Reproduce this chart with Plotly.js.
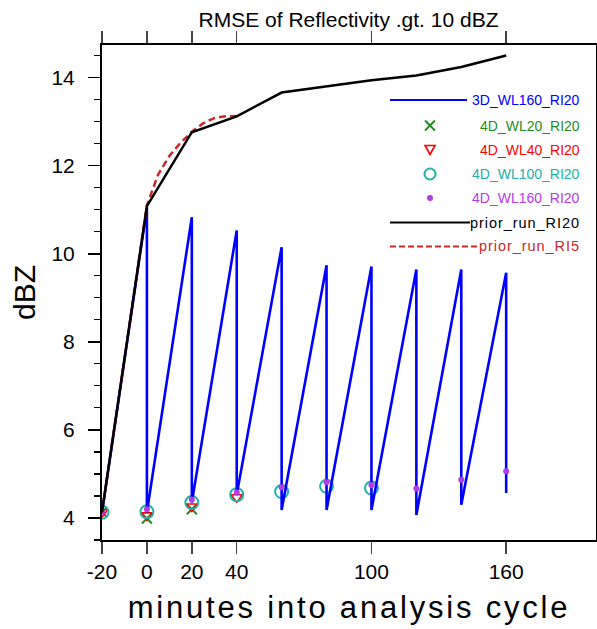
<!DOCTYPE html>
<html>
<head>
<meta charset="utf-8">
<script src="https://cdn.plot.ly/plotly-3.0.1.min.js"></script>
<style>
html,body{margin:0;padding:0;background:#fff;}
#chart{width:597px;height:629px;}
#chart .xtitle{letter-spacing:2.8px;}
</style>
</head>
<body>
<div id="chart"></div>
<script>
// ---- data ----
var startTime = -20;
var startValue = 4.13;
var cycleTimes = [0, 20, 40, 60, 80, 100, 120, 140, 160];
var wl160_3d_forecast = [11.05, 10.83, 10.53, 10.15, 9.74, 9.71, 9.64, 9.64, 9.57];
var wl160_3d_analysis = [4.13, 4.35, 4.53, 4.18, 4.18, 4.18, 4.07, 4.30, 4.57];

var wl20_4d_times = [-20, 0, 20];
var wl20_4d_values = [4.13, 3.99, 4.2];
var wl40_4d_times = [-20, 0, 20, 40];
var wl40_4d_values = [4.13, 4.06, 4.26, 4.47];
var wl100_4d_times = [-20, 0, 20, 40, 60, 80, 100];
var wl100_4d_values = [4.13, 4.14, 4.35, 4.53, 4.6, 4.72, 4.68];
var wl160_4d_times = [-20, 0, 20, 40, 60, 80, 100, 120, 140, 160];
var wl160_4d_values = [4.13, 4.2, 4.42, 4.58, 4.7, 4.81, 4.75, 4.67, 4.87, 5.06];

var priorRI20_times = [-20, 0, 20, 40, 60, 80, 100, 120, 140, 160];
var priorRI20_values = [4.13, 11.08, 12.76, 13.12, 13.66, 13.8, 13.94, 14.05, 14.24, 14.5];
var priorRI5_times = [-20, 0, 5, 10, 15, 20, 25, 30, 35, 40];
var priorRI5_values = [4.13, 11.1, 11.8, 12.22, 12.52, 12.77, 12.96, 13.08, 13.12, 13.13];

var xTickVals = [-20, 0, 20, 40, 100, 160];

// ---- build sawtooth from cycle values ----
var sawX = [startTime], sawY = [startValue];
for (var i = 0; i < cycleTimes.length; i++) {
  sawX.push(cycleTimes[i]); sawY.push(wl160_3d_forecast[i]);
  sawX.push(cycleTimes[i]); sawY.push(wl160_3d_analysis[i]);
}

var C = {
  blue: '#0000ff', green: '#1e8c1e', red: '#ff0000', cyan: '#20b2aa',
  purple: '#b43ce6', black: '#000000', darkred: '#c8282a'
};
var FONT = 'Liberation Sans, Arial, Helvetica, sans-serif';

var traces = [
  {x: wl20_4d_times, y: wl20_4d_values, mode: 'markers', type: 'scatter',
   marker: {symbol: 'x-thin', size: 10, line: {color: C.green, width: 2}, color: C.green}},
  {x: wl40_4d_times, y: wl40_4d_values, mode: 'markers', type: 'scatter',
   marker: {symbol: 'triangle-down-open', size: 10, color: C.red, line: {color: C.red, width: 1.6}}},
  {x: wl100_4d_times, y: wl100_4d_values, mode: 'markers', type: 'scatter',
   marker: {symbol: 'circle-open', size: 13, color: C.cyan, line: {color: C.cyan, width: 2}}},
  {x: sawX, y: sawY, mode: 'lines', type: 'scatter', line: {color: C.blue, width: 2.6}},
  {x: wl160_4d_times, y: wl160_4d_values, mode: 'markers', type: 'scatter',
   marker: {symbol: 'circle', size: 6, color: C.purple}},
  {x: priorRI5_times, y: priorRI5_values, mode: 'lines', type: 'scatter',
   line: {color: C.darkred, width: 2.5, dash: '7px,4px'}},
  {x: priorRI20_times, y: priorRI20_values, mode: 'lines', type: 'scatter',
   line: {color: C.black, width: 2.5}}
];

// ---- manual legend (NCL style) ----
var L = 102, R = 596, T = 45, B = 540;
function px(x) { return (x - L) / (R - L); }
function py(y) { return (B - y) / (B - T); }
var rows = [100, 125.5, 149.5, 174, 198, 222.5, 246.5];
var labels = ['3D_WL160_RI20', '4D_WL20_RI20', '4D_WL40_RI20', '4D_WL100_RI20',
              '4D_WL160_RI20', 'prior_run_RI20', 'prior_run_RI5'];
var labelColors = [C.blue, C.green, C.red, C.cyan, C.purple, C.black, C.darkred];
var annotations = labels.map(function (t, i) {
  var lower = /[a-z]/.test(t);
  return {xref: 'paper', yref: 'paper', x: px(582), y: py(rows[i]), xanchor: 'right',
          yanchor: 'middle', align: 'right', showarrow: false,
          text: lower ? '<span style="letter-spacing:0.95px">' + t + '</span>' : t,
          font: {family: FONT, size: lower ? 14.5 : 14, color: labelColors[i]}};
});
var mx = px(430);
function pixShape(o, yrow) {
  o.xref = 'paper'; o.yref = 'paper';
  o.xsizemode = 'pixel'; o.ysizemode = 'pixel';
  o.xanchor = mx; o.yanchor = py(yrow);
  return o;
}
var shapes = [
  {type: 'line', xref: 'paper', yref: 'paper', x0: px(390), x1: px(467), y0: py(rows[0]), y1: py(rows[0]),
   line: {color: C.blue, width: 2.2}},
  pixShape({type: 'path', path: 'M -5,-5 L 5,5 M -5,5 L 5,-5', line: {color: C.green, width: 2}}, rows[1]),
  pixShape({type: 'path', path: 'M -5,4 L 5,4 L 0,-5 Z', line: {color: C.red, width: 1.6}}, rows[2]),
  pixShape({type: 'circle', x0: -5.5, x1: 5.5, y0: -5.5, y1: 5.5, line: {color: C.cyan, width: 2}}, rows[3]),
  pixShape({type: 'circle', x0: -3, x1: 3, y0: -3, y1: 3, fillcolor: C.purple, line: {color: C.purple, width: 0}}, rows[4]),
  {type: 'line', xref: 'paper', yref: 'paper', x0: px(390), x1: px(470), y0: py(rows[5]), y1: py(rows[5]),
   line: {color: C.black, width: 2.2}},
  {type: 'line', xref: 'paper', yref: 'paper', x0: px(390), x1: px(478), y0: py(rows[6]), y1: py(rows[6]),
   line: {color: C.darkred, width: 2, dash: '6px,3px'}}
];

var layout = {
  width: 597, height: 629,
  margin: {l: 102, r: 1, t: 45, b: 89, pad: 0},
  paper_bgcolor: '#fff', plot_bgcolor: '#fff',
  showlegend: false,
  font: {family: FONT, color: '#000'},
  title: {text: 'RMSE of Reflectivity .gt. 10 dBZ', x: 0.5838, xanchor: 'center', y: 0.969, yanchor: 'middle',
          font: {family: FONT, size: 21, color: '#000'}},
  xaxis: {
    range: [-20, 200], tickvals: xTickVals, ticktext: xTickVals.map(String),
    ticks: 'outside', ticklen: 12, tickwidth: 1.5, tickcolor: '#444',
    showline: true, linewidth: 2, linecolor: '#000', mirror: 'ticks',
    showgrid: false, zeroline: false,
    tickfont: {family: FONT, size: 21, color: '#000'},
    title: {text: 'minutes into analysis cycle', font: {family: FONT, size: 31, color: '#000'}, standoff: 14}
  },
  yaxis: {
    range: [3.5, 14.74], tick0: 0, dtick: 2,
    ticks: 'outside', ticklen: 12, tickwidth: 1.5, tickcolor: '#000',
    minor: {dtick: 0.5, ticks: 'outside', ticklen: 6, tickwidth: 1.2, tickcolor: '#000'},
    showline: true, linewidth: 2, linecolor: '#000', mirror: 'ticks',
    showgrid: false, zeroline: false,
    tickfont: {family: FONT, size: 21, color: '#000'},
    ticklabelstandoff: 9,
    title: {text: 'dBZ', font: {family: FONT, size: 30, color: '#000'}, standoff: 7}
  },
  shapes: shapes,
  annotations: annotations
};

Plotly.newPlot('chart', traces, layout, {displayModeBar: false, staticPlot: true});
</script>
</body>
</html>
